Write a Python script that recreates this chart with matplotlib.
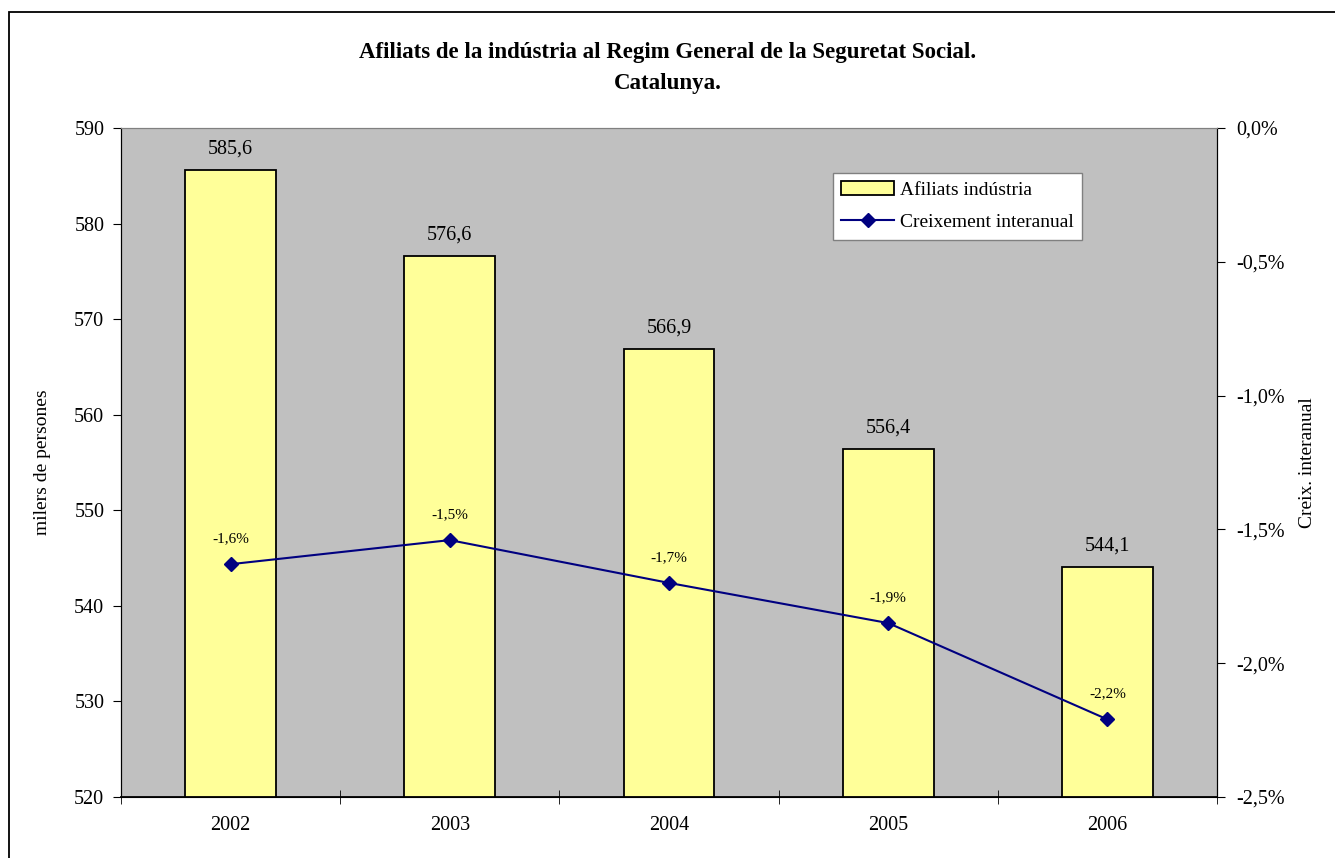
import numpy as np
import matplotlib.pyplot as plt
from matplotlib.patches import Rectangle
from matplotlib.ticker import FuncFormatter, FixedLocator

plt.rcParams['font.family'] = ['Liberation Serif', 'DejaVu Serif']

years = ['2002', '2003', '2004', '2005', '2006']
afiliats = [585.6, 576.6, 566.9, 556.4, 544.1]
creixement = [-1.63, -1.54, -1.70, -1.85, -2.21]
creix_labels = ['-1,6%', '-1,5%', '-1,7%', '-1,9%', '-2,2%']

fig = plt.figure(figsize=(13.35, 8.58), dpi=100)
ax = fig.add_axes([121 / 1335, 1 - 797 / 858, (1217 - 121) / 1335, (797 - 128) / 858])
ax.set_facecolor('#C0C0C0')

x = np.arange(len(years))
bars = ax.bar(x, afiliats, width=0.415, bottom=0, color='#FFFF99',
              edgecolor='black', linewidth=1.3, label='Afiliats indústria', zorder=2)
ax.set_ylim(520, 590)
ax.set_xlim(-0.5, len(years) - 0.5)
ax.set_yticks(np.arange(520, 591, 10))
ax.tick_params(axis='y', direction='out', length=6, labelsize=14.5, pad=6)
ax.set_xticks(x)
ax.set_xticklabels(years)
ax.tick_params(axis='x', length=0, labelsize=14.5, pad=14)
ax.xaxis.set_minor_locator(FixedLocator(np.arange(-0.5, len(years), 1.0)))
ax.tick_params(axis='x', which='minor', direction='inout', length=10)
ax.set_ylabel('milers de persones', fontsize=14, labelpad=17)

for xi, v in zip(x, afiliats):
    ax.text(xi, v + 1.2, f'{v:.1f}'.replace('.', ','), ha='center', va='bottom', fontsize=14.5)

ax.spines['top'].set_color('#808080')
ax.spines['bottom'].set_linewidth(1.3)

ax2 = ax.twinx()
line, = ax2.plot(x, creixement, color='#000080', marker='D', markersize=7,
                 linewidth=1.5, label='Creixement interanual', zorder=3)
ax2.set_ylim(-2.5, 0.0)
ax2.set_yticks(np.arange(-2.5, 0.01, 0.5))
ax2.yaxis.set_major_formatter(FuncFormatter(lambda v, p: f'{v:.1f}%'.replace('.', ',')))
ax2.tick_params(axis='y', direction='out', length=6, labelsize=14.5, pad=8)
ax2.set_ylabel('Creix. interanual', fontsize=14, labelpad=10)
ax2.spines['top'].set_color('#808080')

for xi, v, lab in zip(x, creixement, creix_labels):
    ax2.text(xi, v + 0.07, lab, ha='center', va='bottom', fontsize=11)

leg = ax.legend([bars, line], ['Afiliats indústria', 'Creixement interanual'],
                loc='upper left', bbox_to_anchor=((823 - 121) / 1096, 1 - (163 - 128) / 669),
                fontsize=14, frameon=True, fancybox=False, framealpha=1,
                edgecolor='#808080', borderpad=0.45, labelspacing=0.75,
                handlelength=2.7, handletextpad=0.3)
leg.get_frame().set_linewidth(1.0)
leg.set_zorder(5)

fig.text(0.5, 1 - 68 / 858, 'Afiliats de la indústria al Regim General de la Seguretat Social.\nCatalunya.',
         ha='center', va='center', fontsize=16.5, fontweight='bold', linespacing=1.6)

fig.patches.append(Rectangle((9 / 1335, -0.05), 1.1, 1 - 12 / 858 + 0.05,
                             transform=fig.transFigure, fill=False,
                             edgecolor='black', linewidth=1.3))

fig.savefig('out.png', dpi=100)
